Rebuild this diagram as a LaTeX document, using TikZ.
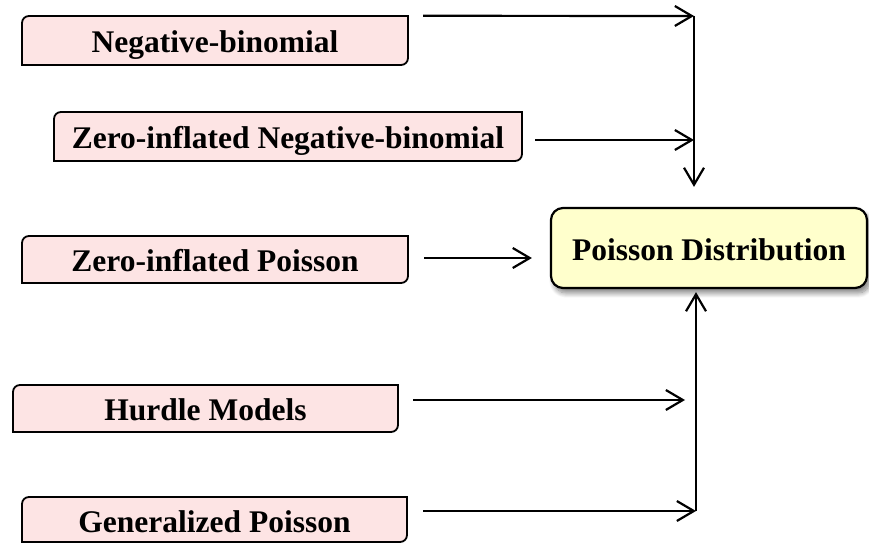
\documentclass[tikz,border=0pt]{standalone}
\usepackage{fontspec}
\setmainfont{Liberation Serif}
\usetikzlibrary{arrows.meta,shadows.blur}
\definecolor{pinkfill}{HTML}{FDE4E4}
\definecolor{yellowfill}{HTML}{FFFFCC}
\tikzset{
  boxtext/.style={inner sep=0pt, font=\fontsize{31.5}{36}\selectfont\bfseries, align=center,
    text height=30pt, text depth=5pt},
  boxline/.style={draw=black, line width=1.8pt, fill=pinkfill},
  mainbox/.style={boxtext, draw=black, line width=2.2pt, fill=yellowfill, rounded corners=12pt,
    blur shadow={shadow xshift=3pt, shadow yshift=-5pt, shadow blur radius=5pt, shadow blur steps=10, shadow opacity=50}},
  conn/.style={line width=2.2pt, -{Straight Barb[length=17pt,width=20pt,line width=2.2pt]}},
}
\newcommand\pinkbox[6]{%
  \draw[boxline] ({#2-#4/2},{#3+#5/2-7}) arc[start angle=180,end angle=90,radius=7]
     -- ({#2+#4/2},{#3+#5/2}) -- ({#2+#4/2},{#3-#5/2+7}) arc[start angle=0,end angle=-90,radius=7]
     -- ({#2-#4/2},{#3-#5/2}) -- cycle;
  \node[boxtext, minimum width=#4pt, minimum height=#5pt] (#1) at (#2,#3) {#6};}
\begin{document}
\begin{tikzpicture}[x=1pt,y=1pt]
\useasboundingbox (0,0) rectangle (869,543);
\pinkbox{nb}{215}{502.5}{386}{49}{Negative-binomial}
\pinkbox{znb}{288}{406.5}{468}{49}{Zero-inflated Negative-binomial}
\pinkbox{zip}{215}{283.5}{386}{47}{Zero-inflated Poisson}
\pinkbox{hm}{205.5}{134.5}{385}{47}{Hurdle Models}
\pinkbox{gp}{214.5}{23.5}{385}{45}{Generalized Poisson}
\node[mainbox, minimum width=316pt, minimum height=80pt] (pd) at (709,295) {Poisson Distribution};
\coordinate (j1) at (694,527);
\coordinate (j2) at (694,403);
\coordinate (j5) at (696,32);
\draw[conn] ([xshift=15pt]nb.north east) -- (j1);
\draw[conn] ([shift={(13pt,-3.5pt)}]znb.east) -- (j2);
\draw[conn] (j1) -- ([shift={(-15pt,20pt)}]pd.north);
\draw[conn] ([shift={(16pt,1.5pt)}]zip.east) -- ([shift={(-18pt,-10pt)}]pd.west);
\draw[conn] ([shift={(15pt,8.5pt)}]hm.east) -- (685,143);
\draw[conn] ([shift={(16pt,8.5pt)}]gp.east) -- (j5);
\draw[conn] (j5) -- ([shift={(-13pt,-3pt)}]pd.south);
\end{tikzpicture}
\end{document}
